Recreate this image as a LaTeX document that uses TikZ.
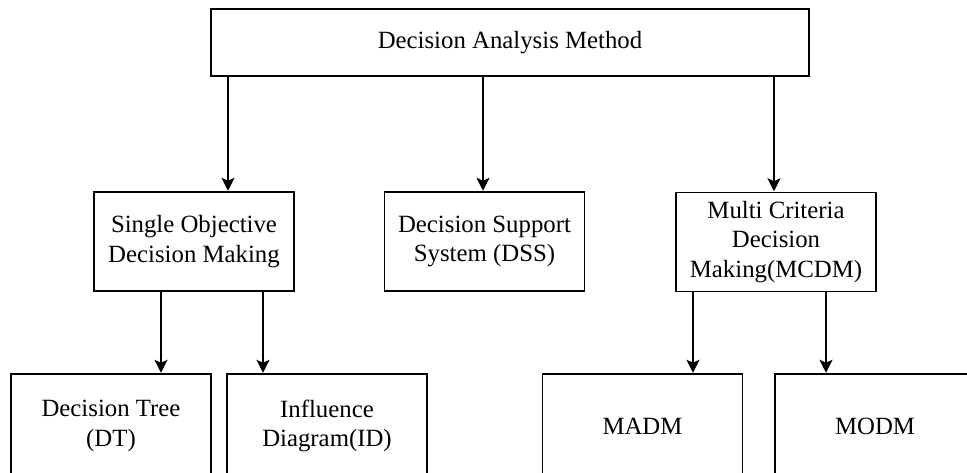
\documentclass[tikz,border=0pt]{standalone}
\usepackage{fontspec}
\setmainfont{Liberation Serif}
\usepackage{tikz}
\usetikzlibrary{positioning,arrows.meta}
\tikzset{
  box/.style={draw,line width=1.5pt,minimum width=200pt,minimum height=99pt,
    align=center,inner sep=0pt,font=\fontsize{24.8}{29.5}\selectfont},
  arr/.style={-{Stealth[length=13pt,width=13pt,inset=3pt]},line width=1.3pt,shorten >=0.5pt},
}

\begin{document}
\begin{tikzpicture}[x=1pt,y=-1pt]
\useasboundingbox (0,0) rectangle (967,473);
\clip (0,0) rectangle (967,473);
\node[box,minimum width=598pt,minimum height=67pt] (dam) at (510,42.5) {Decision Analysis Method};
\node[box] (sodm) at (194,241.5) {Single Objective\\Decision Making};
\node[box] (dss) at (484.5,241.5) {Decision Support\\System (DSS)};
\node[box] (mcdm) at (776,242) {Multi Criteria\\Decision\\Making(MCDM)};
\node[box,minimum height=104pt] (dt) at (111,426) {Decision Tree\\(DT)};
\node[box,minimum height=104pt] (id) at (327,426) {Influence\\Diagram(ID)};
\node[box,minimum height=104pt] (madm) at (642.5,426) {MADM};
\node[box,minimum height=104pt] (modm) at (875,426) {MODM};

% first level
\draw[arr] ([xshift=34pt]sodm.north |- dam.south) -- ([xshift=34pt]sodm.north);
\draw[arr] ([xshift=-1.5pt]dss.north |- dam.south) -- ([xshift=-1.5pt]dss.north);
\draw[arr] ([xshift=-2pt]mcdm.north |- dam.south) -- ([xshift=-2pt]mcdm.north);
% second level
\draw[arr] ([xshift=50pt]dt.north |- sodm.south) -- ([xshift=50pt]dt.north);
\draw[arr] ([xshift=-64pt]id.north |- sodm.south) -- ([xshift=-64pt]id.north);
\draw[arr] ([xshift=50.5pt]madm.north |- mcdm.south) -- ([xshift=50.5pt]madm.north);
\draw[arr] ([xshift=-49pt]modm.north |- mcdm.south) -- ([xshift=-49pt]modm.north);
\end{tikzpicture}
\end{document}
